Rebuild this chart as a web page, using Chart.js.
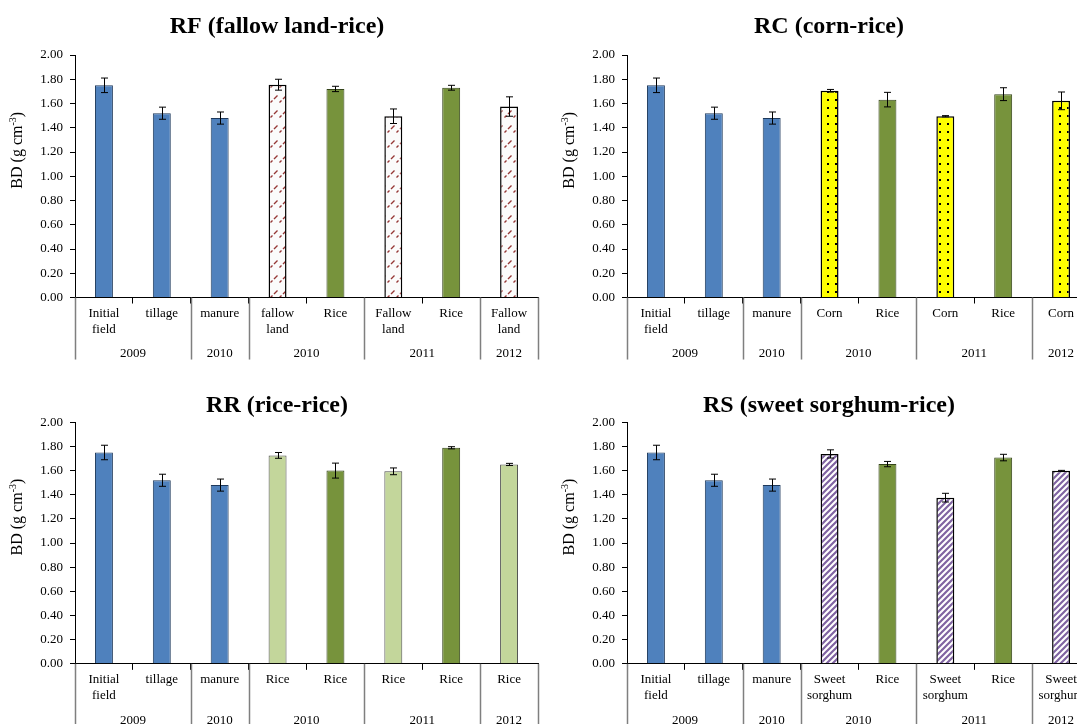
<!DOCTYPE html>
<html>
<head>
<meta charset="utf-8">
<script src="https://cdn.jsdelivr.net/npm/chart.js@4.4.1/dist/chart.umd.min.js"></script>
<style>
  html, body { margin: 0; padding: 0; background: #fff; overflow: hidden; width: 1077px; height: 724px; }
  canvas { position: absolute; }
</style>
</head>
<body>
<canvas id="rf" width="554" height="368" style="left:0;top:0"></canvas>
<canvas id="rc" width="554" height="368" style="left:552px;top:0"></canvas>
<canvas id="rr" width="554" height="370" style="left:0;top:368px"></canvas>
<canvas id="rs" width="554" height="370" style="left:552px;top:368px"></canvas>
<script>
const serif = "'Liberation Serif', 'Times New Roman', serif";

// year groups under the categories
const yearGroups = ["2009", "2010", "2010", "2011", "2012"];
const groupCenters = [1, 2.5, 4, 6, 7.5];
const groupEdges = [0, 2, 3, 5, 7, 8];

// RF (fallow land-rice)
const rfCategories = [["Initial", "field"], "tillage", "manure", ["fallow", "land"], "Rice", ["Fallow", "land"], "Rice", ["Fallow", "land"]];
const rfValues = [1.75, 1.52, 1.48, 1.755, 1.72, 1.495, 1.73, 1.575];
const rfErrors = [0.06, 0.05, 0.05, 0.045, 0.022, 0.06, 0.02, 0.08];
const rfKinds = ["base", "base", "base", "fallow", "rice", "fallow", "rice", "fallow"];

// RC (corn-rice)
const rcCategories = [["Initial", "field"], "tillage", "manure", "Corn", "Rice", "Corn", "Rice", "Corn"];
const rcValues = [1.75, 1.52, 1.48, 1.705, 1.632, 1.495, 1.677, 1.622];
const rcErrors = [0.06, 0.05, 0.05, 0.011, 0.06, 0.005, 0.053, 0.073];
const rcKinds = ["base", "base", "base", "corn", "rice", "corn", "rice", "corn"];

// RR (rice-rice)
const rrCategories = [["Initial", "field"], "tillage", "manure", "Rice", "Rice", "Rice", "Rice", "Rice"];
const rrValues = [1.75, 1.52, 1.48, 1.726, 1.60, 1.594, 1.789, 1.651];
const rrErrors = [0.06, 0.05, 0.05, 0.024, 0.062, 0.028, 0.009, 0.009];
const rrKinds = ["base", "base", "base", "riceLight", "rice", "riceLight", "rice", "riceLight"];

// RS (sweet sorghum-rice)
const rsCategories = [["Initial", "field"], "tillage", "manure", ["Sweet", "sorghum"], "Rice", ["Sweet", "sorghum"], "Rice", ["Sweet", "sorghum"]];
const rsValues = [1.75, 1.52, 1.48, 1.738, 1.654, 1.376, 1.708, 1.598];
const rsErrors = [0.06, 0.05, 0.05, 0.034, 0.022, 0.036, 0.027, 0.004];
const rsKinds = ["base", "base", "base", "sorghum", "rice", "sorghum", "rice", "sorghum"];

function makePattern(w, h, draw) {
    const c = document.createElement("canvas");
    c.width = w;
    c.height = h;
    const g = c.getContext("2d");
    draw(g, w, h);
    return g.createPattern(c, "repeat");
}

// dashed upward diagonal
const fallowPattern = makePattern(9, 15, (g, w, h) => {
    g.fillStyle = "#fbfbfb";
    g.fillRect(0, 0, w, h);
    g.strokeStyle = "#953735";
    g.lineWidth = 1.4;
    g.beginPath();
    g.moveTo(0.5, 12.5);
    g.lineTo(2.5, 10.5);
    g.moveTo(4, 9);
    g.lineTo(7.5, 5.5);
    g.stroke();
});

const cornPattern = makePattern(8, 8, (g, w, h) => {
    g.fillStyle = "#ffff00";
    g.fillRect(0, 0, w, h);
    g.fillStyle = "#000";
    g.fillRect(3, 3, 2, 2);
});

const sorghumPattern = makePattern(6, 6, (g, w, h) => {
    g.fillStyle = "#fff";
    g.fillRect(0, 0, w, h);
    g.strokeStyle = "#8064a2";
    g.lineWidth = 2.2;
    g.beginPath();
    g.moveTo(-1, 7); g.lineTo(7, -1);
    g.moveTo(-4, 4); g.lineTo(4, -4);
    g.moveTo(2, 10); g.lineTo(10, 2);
    g.stroke();
});

function fillFor(kind) {
    switch (kind) {
        case "base": return "#4f81bd";
        case "rice": return "#77933c";
        case "riceLight": return "#c3d69b";
        case "fallow": return fallowPattern;
        case "corn": return cornPattern;
        case "sorghum": return sorghumPattern;
    }
    return "gray";
}

function borderFor(kind) {
    if (kind === "base") return "#1f3a5c";
    if (kind === "rice") return "#34441a";
    if (kind === "riceLight") return "#4d4d4d";
    return "#000";
}

const errorBars = {
    id: "errorBars",
    afterDatasetsDraw(chart, args, opts) {
        const ctx = chart.ctx;
        const x = chart.scales.x;
        const y = chart.scales.y;
        const values = chart.data.datasets[0].data;
        ctx.save();
        ctx.strokeStyle = "#000";
        ctx.lineWidth = 1;
        values.forEach((v, i) => {
            const e = opts.errors[i];
            const px = Math.round(x.getPixelForValue(i)) + 0.5;
            const top = y.getPixelForValue(v + e);
            const bot = y.getPixelForValue(v - e);
            ctx.beginPath();
            ctx.moveTo(px, top);
            ctx.lineTo(px, bot);
            ctx.moveTo(px - 3.5, top);
            ctx.lineTo(px + 3.5, top);
            ctx.moveTo(px - 3.5, bot);
            ctx.lineTo(px + 3.5, bot);
            ctx.stroke();
        });
        ctx.restore();
    }
};

// long separators between the year groups
const groupLines = {
    id: "groupLines",
    afterDraw(chart) {
        const ctx = chart.ctx;
        const x2 = chart.scales.x2;
        const bottom = chart.chartArea.bottom;
        ctx.save();
        ctx.strokeStyle = "#7f7f7f";
        ctx.lineWidth = 1.5;
        groupEdges.forEach(edge => {
            const px = Math.round(x2.getPixelForValue(edge)) + 0.5;
            ctx.beginPath();
            ctx.moveTo(px, bottom);
            ctx.lineTo(px, bottom + 62);
            ctx.stroke();
        });
        ctx.restore();
    }
};

// "BD (g cm-3)" with a raised -3
const yTitle = {
    id: "yTitle",
    afterDraw(chart) {
        const ctx = chart.ctx;
        const area = chart.chartArea;
        const main = "BD (g cm";
        const sup = "-3";
        const close = ")";
        ctx.save();
        ctx.fillStyle = "#000";
        ctx.textBaseline = "middle";
        ctx.textAlign = "left";
        ctx.font = "16px " + serif;
        const w1 = ctx.measureText(main).width;
        const w3 = ctx.measureText(close).width;
        ctx.font = "10px " + serif;
        const w2 = ctx.measureText(sup).width;
        const total = w1 + w2 + w3;
        ctx.translate(18, (area.top + area.bottom) / 2 - 26);
        ctx.rotate(-Math.PI / 2);
        let x = -total / 2;
        ctx.font = "16px " + serif;
        ctx.fillText(main, x, 0);
        x += w1;
        ctx.font = "10px " + serif;
        ctx.fillText(sup, x, -5);
        x += w2;
        ctx.font = "16px " + serif;
        ctx.fillText(close, x, 0);
        ctx.restore();
    }
};

function drawPanel(id, title, categories, values, errors, kinds, titlePadding, bottomPadding) {
    const patterned = kinds.map(k => k === "fallow" || k === "corn" || k === "sorghum");
    new Chart(document.getElementById(id), {
        type: "bar",
        data: {
            labels: categories,
            datasets: [{
                data: values,
                backgroundColor: kinds.map(fillFor),
                borderColor: kinds.map(borderFor),
                borderWidth: patterned.map(p => p ? 1.5 : 1),
                barPercentage: 0.31,
                categoryPercentage: 1.0
            }]
        },
        options: {
            responsive: false,
            animation: false,
            devicePixelRatio: 1,
            layout: { padding: { left: 0, right: 0, top: 0, bottom: bottomPadding } },
            plugins: {
                legend: { display: false },
                tooltip: { enabled: false },
                title: {
                    display: true,
                    text: title,
                    color: "#000",
                    font: { family: serif, size: 24, weight: "bold" },
                    padding: titlePadding
                },
                errorBars: { errors: errors }
            },
            scales: {
                x: {
                    type: "category",
                    grid: { display: true, drawOnChartArea: false, drawTicks: true, tickLength: 6, color: "#000", offset: true },
                    border: { display: true, color: "#000", width: 1 },
                    ticks: {
                        color: "#000",
                        font: { family: serif, size: 13, lineHeight: 1.23 },
                        padding: 2,
                        maxRotation: 0,
                        autoSkip: false
                    }
                },
                x2: {
                    type: "linear",
                    position: "bottom",
                    offset: false,
                    min: 0,
                    max: 8,
                    grid: { display: false, offset: false },
                    border: { display: false },
                    afterBuildTicks: scale => {
                        scale.ticks = groupCenters.map(v => ({ value: v }));
                    },
                    ticks: {
                        callback: (val, index) => yearGroups[index],
                        color: "#000",
                        font: { family: serif, size: 13, lineHeight: 1.23 },
                        padding: -1.5,
                        maxRotation: 0,
                        autoSkip: false
                    }
                },
                y: {
                    min: 0,
                    max: 2,
                    afterFit: scale => { scale.width = 75; },
                    grid: { display: true, drawOnChartArea: false, drawTicks: true, tickLength: 5, color: "#000" },
                    border: { display: true, color: "#000", width: 1 },
                    ticks: {
                        stepSize: 0.2,
                        callback: v => v.toFixed(2),
                        color: "#000",
                        font: { family: serif, size: 13 },
                        padding: 7
                    }
                },
                yr: {
                    type: "linear",
                    axis: "y",
                    position: "right",
                    afterFit: scale => { scale.width = 16; },
                    grid: { display: false },
                    border: { display: false },
                    ticks: { display: false }
                }
            }
        },
        plugins: [errorBars, groupLines, yTitle]
    });
}

drawPanel("rf", "RF (fallow land-rice)", rfCategories, rfValues, rfErrors, rfKinds, { top: 12, bottom: 14.2 }, 7.5);
drawPanel("rc", "RC (corn-rice)", rcCategories, rcValues, rcErrors, rcKinds, { top: 12, bottom: 14.2 }, 7.5);
drawPanel("rr", "RR (rice-rice)", rrCategories, rrValues, rrErrors, rrKinds, { top: 23.6, bottom: 1.9 }, 11.2);
drawPanel("rs", "RS (sweet sorghum-rice)", rsCategories, rsValues, rsErrors, rsKinds, { top: 23.6, bottom: 1.9 }, 11.2);
</script>
</body>
</html>
